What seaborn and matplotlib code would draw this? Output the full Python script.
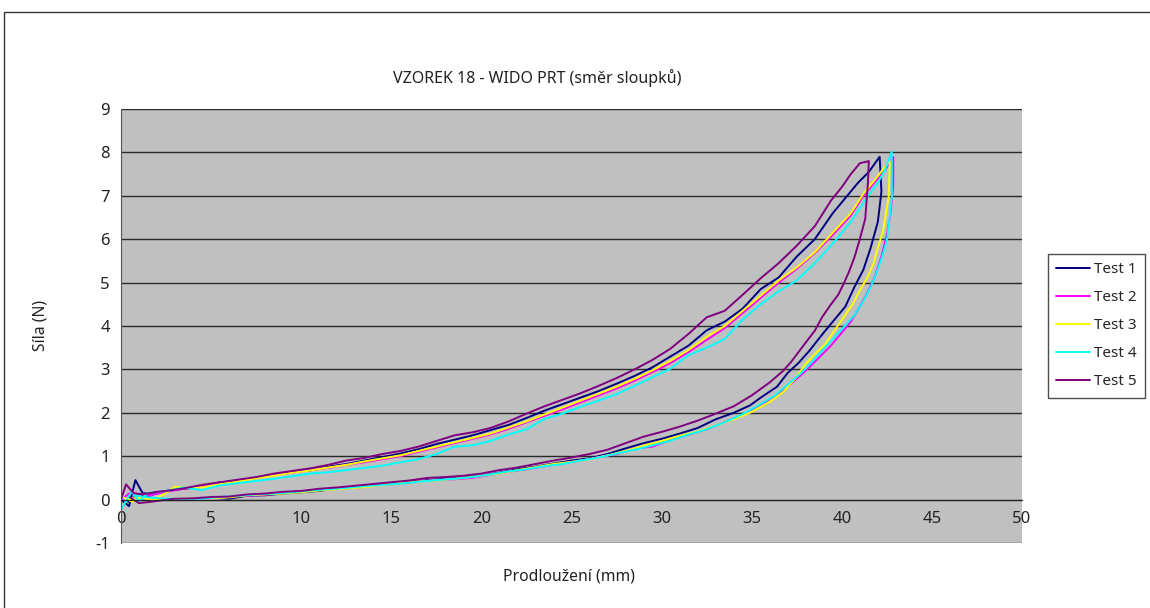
import pandas as pd
import seaborn as sns
import matplotlib
matplotlib.use("Agg")
import matplotlib.pyplot as plt
from matplotlib.patches import Rectangle
from matplotlib.lines import Line2D

# loop data: loading branch followed by unloading branch (mm, N)
t1_x = [0, 0.45, 0.8, 1.2, 1.8, 2.5, 3.5, 4.5, 5.5, 6.5, 7.5, 8.5, 9.5, 10.5, 11.5, 12.5, 13.5, 14.5,
        15.5, 16.5, 17.5, 18.5, 19.5, 20.5, 21.5, 22.5, 23.5, 24.5, 25.5, 26.5, 27.5, 28.5, 29.5, 30.5,
        31.5, 32.5, 33.5, 34.5, 35.5, 36.5, 37.5, 38.5, 39.5, 40.3, 40.9, 41.5, 42.1,
        42.2, 42.0, 41.6, 41.2, 40.7, 40.2, 39.6, 39.0, 38.2, 37.6, 37.0, 36.4, 35.5, 34.9, 34.0, 33.0,
        32.0, 31.0, 30.0, 29.0, 28.0, 27.0, 26.0, 25.0, 24.0, 23.0, 22.0, 21.0, 20.0, 19.0, 18.0, 17.0,
        16.0, 15.0, 14.0, 13.0, 12.0, 11.0, 10.0, 9.0, 8.0, 7.0, 6.0, 5.0, 4.0, 3.0, 2.0, 1.4, 0.9, 0.4]
t1_y = [0, -0.15, 0.45, 0.15, 0.12, 0.2, 0.25, 0.3, 0.4, 0.43, 0.5, 0.56, 0.64, 0.67, 0.76, 0.82, 0.9, 0.98,
        1.06, 1.16, 1.28, 1.38, 1.48, 1.6, 1.72, 1.88, 2.05, 2.2, 2.35, 2.5, 2.67, 2.85, 3.05, 3.3,
        3.55, 3.9, 4.1, 4.4, 4.85, 5.12, 5.6, 6.0, 6.6, 7.0, 7.3, 7.55, 7.9,
        7.1, 6.4, 5.8, 5.3, 4.9, 4.45, 4.15, 3.85, 3.43, 3.15, 2.92, 2.6, 2.35, 2.17, 2.0, 1.85,
        1.65, 1.52, 1.4, 1.3, 1.18, 1.05, 0.95, 0.9, 0.83, 0.76, 0.7, 0.62, 0.55, 0.5, 0.48, 0.45,
        0.4, 0.38, 0.33, 0.28, 0.26, 0.2, 0.17, 0.14, 0.1, 0.09, 0.02, 0.04, 0.02, 0.01, 0.0, 0.08, 0.1, -0.05]

t2_x = [0, 0.5, 1.0, 1.6, 2.5, 3.5, 4.5, 5.5, 6.5, 7.5, 8.5, 9.5, 10.5, 11.5, 12.5, 13.5, 14.5, 15.5,
        16.5, 17.5, 18.5, 19.5, 20.5, 21.5, 22.5, 23.5, 24.5, 25.5, 26.5, 27.5, 28.5, 29.5, 30.5, 31.5,
        32.5, 33.5, 34.5, 35.5, 36.5, 37.5, 38.5, 39.5, 40.5, 41.2, 41.8, 42.4, 42.86,
        42.85, 42.7, 42.5, 42.2, 41.8, 41.4, 41.0, 40.5, 40.0, 39.4, 38.8, 38.2, 37.6, 37.0, 36.3, 35.5,
        34.5, 33.5, 32.5, 31.5, 30.5, 29.5, 28.5, 27.5, 26.5, 25.5, 24.5, 23.5, 22.5, 21.5, 20.5, 19.5,
        18.5, 17.5, 16.5, 15.5, 14.5, 13.5, 12.5, 11.5, 10.5, 9.5, 8.5, 7.5, 6.5, 5.5, 4.5, 3.5, 2.5,
        1.5, 0.8]
t2_y = [0.0, 0.15, 0.12, 0.1, 0.18, 0.25, 0.3, 0.38, 0.44, 0.5, 0.57, 0.62, 0.68, 0.73, 0.8, 0.86, 0.93, 1.0,
        1.1, 1.2, 1.3, 1.4, 1.5, 1.63, 1.78, 1.93, 2.08, 2.24, 2.4, 2.56, 2.74, 2.94, 3.15, 3.4,
        3.68, 3.95, 4.3, 4.65, 5.0, 5.32, 5.68, 6.1, 6.55, 7.0, 7.3, 7.6, 7.89,
        7.2, 6.6, 6.1, 5.6, 5.1, 4.75, 4.45, 4.1, 3.85, 3.55, 3.3, 3.05, 2.82, 2.6, 2.38, 2.18,
        1.95, 1.78, 1.62, 1.5, 1.38, 1.22, 1.18, 1.05, 0.98, 0.9, 0.84, 0.77, 0.7, 0.64, 0.57, 0.5,
        0.47, 0.45, 0.42, 0.38, 0.35, 0.3, 0.26, 0.24, 0.2, 0.18, 0.13, 0.1, 0.08, 0.04, 0.02, 0.02, 0.01,
        0.05, 0.08]

t3_x = [0, 0.6, 1.2, 1.8, 2.5, 3.0, 3.5, 4.5, 5.5, 6.5, 7.5, 8.5, 9.5, 10.5, 11.5, 12.5, 13.5, 14.5,
        15.5, 16.5, 17.5, 18.5, 19.5, 20.5, 21.5, 22.5, 23.5, 24.5, 25.5, 26.5, 27.5, 28.5, 29.5, 30.5,
        31.5, 32.5, 33.5, 34.5, 35.5, 36.5, 37.5, 38.5, 39.5, 40.5, 41.2, 41.8, 42.3, 42.67,
        42.6, 42.45, 42.3, 42.0, 41.75, 41.4, 41.0, 40.6, 40.1, 39.6, 39.1, 38.5, 38.0, 37.4, 36.75, 36.0,
        35.0, 34.0, 33.0, 32.0, 31.0, 30.0, 29.0, 28.0, 27.0, 26.0, 25.0, 24.0, 23.0, 22.0, 21.0, 20.0,
        19.0, 18.0, 17.0, 16.0, 15.0, 14.0, 13.0, 12.0, 11.0, 10.0, 9.0, 8.0, 7.0, 6.0, 5.0, 4.0, 3.0,
        2.0, 1.0, 0.3]
t3_y = [0.08, -0.05, 0.05, 0.0, 0.15, 0.3, 0.27, 0.28, 0.36, 0.42, 0.49, 0.55, 0.62, 0.67, 0.74, 0.8, 0.88, 0.95,
        1.02, 1.12, 1.22, 1.32, 1.42, 1.52, 1.66, 1.8, 1.96, 2.12, 2.28, 2.44, 2.6, 2.78, 2.98, 3.2,
        3.45, 3.75, 4.0, 4.35, 4.7, 5.05, 5.35, 5.7, 6.15, 6.6, 7.05, 7.35, 7.62, 7.8,
        6.97, 6.6, 6.2, 5.8, 5.43, 5.1, 4.82, 4.5, 4.2, 3.9, 3.59, 3.35, 3.13, 2.78, 2.48, 2.25,
        2.02, 1.85, 1.7, 1.57, 1.47, 1.35, 1.24, 1.12, 1.02, 0.93, 0.87, 0.82, 0.75, 0.68, 0.6, 0.55,
        0.5, 0.46, 0.43, 0.4, 0.37, 0.31, 0.27, 0.24, 0.21, 0.17, 0.14, 0.12, 0.1, 0.05, 0.03, 0.03, 0.02,
        0.0, 0.05, 0.0]

t4_x = [0, 0.6, 1.0, 1.5, 2.5, 3.5, 4.5, 5.5, 6.5, 7.5, 8.5, 9.5, 10.5, 11.5, 12.5, 13.5, 14.5, 15.5,
        16.5, 17.5, 18.5, 19.5, 20.5, 21.5, 22.5, 23.5, 24.5, 25.5, 26.5, 27.5, 28.5, 29.5, 30.5, 31.5,
        32.5, 33.5, 34.5, 35.5, 36.5, 37.5, 38.5, 39.5, 40.5, 41.4, 42.0, 42.4, 42.77,
        42.78, 42.65, 42.5, 42.2, 41.9, 41.6, 41.2, 40.7, 40.1, 39.5, 38.9, 38.3, 37.7, 37.0, 36.3, 35.5,
        34.5, 33.5, 32.5, 31.5, 30.5, 29.5, 28.5, 27.5, 26.5, 25.5, 24.5, 23.5, 22.5, 21.5, 20.5, 19.5,
        18.5, 17.5, 16.5, 15.5, 14.5, 13.5, 12.5, 11.5, 10.5, 9.5, 8.5, 7.5, 6.5, 5.5, 4.5, 3.5, 2.5,
        1.5, 0.8]
t4_y = [-0.23, 0.19, -0.04, 0.15, 0.2, 0.28, 0.22, 0.33, 0.38, 0.43, 0.48, 0.54, 0.6, 0.63, 0.68, 0.73, 0.78, 0.86,
        0.93, 1.05, 1.22, 1.25, 1.35, 1.5, 1.62, 1.86, 1.98, 2.14, 2.28, 2.43, 2.62, 2.82, 3.02, 3.33,
        3.5, 3.7, 4.15, 4.5, 4.8, 5.05, 5.45, 5.9, 6.4, 6.97, 7.3, 7.6, 8.02,
        6.97, 6.5, 5.97, 5.55, 5.2, 4.9, 4.58, 4.25, 3.97, 3.7, 3.43, 3.15, 2.9, 2.65, 2.4, 2.2,
        1.97, 1.78, 1.62, 1.5, 1.36, 1.25, 1.15, 1.06, 0.97, 0.9, 0.82, 0.77, 0.7, 0.65, 0.58, 0.52,
        0.48, 0.45, 0.41, 0.37, 0.34, 0.31, 0.27, 0.24, 0.21, 0.17, 0.14, 0.12, 0.09, 0.06, 0.02, 0.02, 0.02,
        0.05, 0.1]

t5_x = [0, 0.28, 0.7, 1.2, 2.0, 2.5, 3.5, 4.5, 5.5, 6.5, 7.5, 8.5, 9.5, 10.5, 11.5, 12.5, 13.5, 14.5,
        15.5, 16.5, 17.5, 18.5, 19.5, 20.5, 21.5, 22.5, 23.5, 24.5, 25.5, 26.5, 27.5, 28.5, 29.5, 30.5,
        31.5, 32.5, 33.5, 34.5, 35.5, 36.5, 37.5, 38.5, 39.4, 40.0, 40.5, 41.0, 41.5,
        41.45, 41.3, 41.0, 40.7, 40.4, 40.1, 39.8, 39.4, 38.9, 38.5, 38.0, 37.6, 37.2, 36.75, 36.0, 35.0,
        34.0, 33.0, 32.0, 31.0, 30.0, 29.0, 28.0, 27.0, 26.0, 25.0, 24.0, 23.0, 22.0, 21.0, 20.0, 19.0,
        18.0, 17.0, 16.0, 15.0, 14.0, 13.0, 12.0, 11.0, 10.0, 9.0, 8.0, 7.0, 6.0, 5.0, 4.0, 3.0, 2.0,
        1.7, 1.0, 0.5]
t5_y = [0, 0.35, 0.15, 0.12, 0.18, 0.2, 0.26, 0.34, 0.4, 0.46, 0.52, 0.6, 0.66, 0.72, 0.8, 0.9, 0.96, 1.05,
        1.12, 1.22, 1.35, 1.48, 1.55, 1.65, 1.8, 1.98, 2.15, 2.3, 2.45, 2.62, 2.8, 3.0, 3.22, 3.48,
        3.82, 4.2, 4.35, 4.72, 5.1, 5.45, 5.85, 6.3, 6.89, 7.2, 7.5, 7.75, 7.8,
        7.3, 6.47, 6.0, 5.58, 5.25, 4.97, 4.72, 4.5, 4.2, 3.89, 3.62, 3.4, 3.18, 2.97, 2.7, 2.4,
        2.15, 1.98, 1.82, 1.68, 1.56, 1.45, 1.3, 1.15, 1.05, 0.97, 0.9, 0.82, 0.74, 0.68, 0.6, 0.55,
        0.52, 0.5, 0.44, 0.4, 0.36, 0.32, 0.28, 0.25, 0.2, 0.18, 0.14, 0.12, 0.07, 0.06, 0.03, 0.02, -0.03,
        -0.05, -0.08, 0.05]

labels = ["Test 1", "Test 2", "Test 3", "Test 4", "Test 5"]
colors = ["#000080", "#FF00FF", "#FFFF00", "#00FFFF", "#800080"]

series = [(t1_x, t1_y), (t2_x, t2_y), (t3_x, t3_y), (t4_x, t4_y), (t5_x, t5_y)]
frames = []
for lab, (xs, ys) in zip(labels, series):
    d = pd.DataFrame({"x": xs, "y": ys})
    d["test"] = lab
    frames.append(d)
df = pd.concat(frames, ignore_index=True)

sns.set_style("white")
plt.rcParams['font.family'] = ['Noto Sans', 'DejaVu Sans']
plt.rcParams['axes.unicode_minus'] = False

fig = plt.figure(figsize=(11.5, 6.08), dpi=100)
ax = fig.add_axes([0.1052, 0.1069, 0.7835, 0.7138])
ax.set_facecolor("#C0C0C0")

sns.lineplot(data=df, x="x", y="y", hue="test", units="test", estimator=None, sort=False,
             palette=dict(zip(labels, colors)), linewidth=1.4, ax=ax, legend=False)

ax.set_xlim(0, 50)
ax.set_ylim(-1, 9)
ax.set_xticks(range(0, 51, 5))
ax.set_yticks(range(-1, 10))
for yv in range(-1, 10):
    ax.axhline(yv, color="#2a2a2a", lw=1.0, zorder=1)

for s in ["top", "right"]:
    ax.spines[s].set_visible(False)
ax.spines["bottom"].set_position(("data", 0))
ax.spines["bottom"].set_color("#222222")
ax.spines["left"].set_color("#555555")
ax.tick_params(axis="both", direction="out", width=1, colors="#222222",
               labelsize=12, labelcolor="#222222")
ax.tick_params(axis="y", length=5, pad=3)
ax.tick_params(axis="x", length=4, pad=4)
ax.set_xlabel("")
ax.set_ylabel("")

fig.text(0.467, 0.872, "VZOREK 18 - WIDO PRT (směr sloupků)", ha="center", va="center",
         fontsize=11.5, color="#222222")
fig.text(0.035, 0.464, "Síla (N)", rotation=90, ha="center", va="center", fontsize=11.3, color="#222222")
fig.text(0.495, 0.051, "Prodloužení (mm)", ha="center", va="center", fontsize=11.3, color="#222222")

handles = [Line2D([0], [0], color=c, lw=1.4) for c in colors]
leg = ax.legend(handles, labels, loc="center left", bbox_to_anchor=(0.911, 0.464),
                bbox_transform=fig.transFigure, fancybox=False, frameon=True, edgecolor="#222222",
                fontsize=11, labelspacing=0.85, handlelength=2.2, handletextpad=0.3,
                borderpad=0.55, borderaxespad=0)
leg.get_frame().set_linewidth(1.0)

fig.patches.append(Rectangle((4 / 1150, -0.05), 1.2, 1 - 12 / 608 + 0.05, transform=fig.transFigure,
                             fill=False, edgecolor="#333333", lw=1.0))

fig.savefig("out.png", dpi=100)
